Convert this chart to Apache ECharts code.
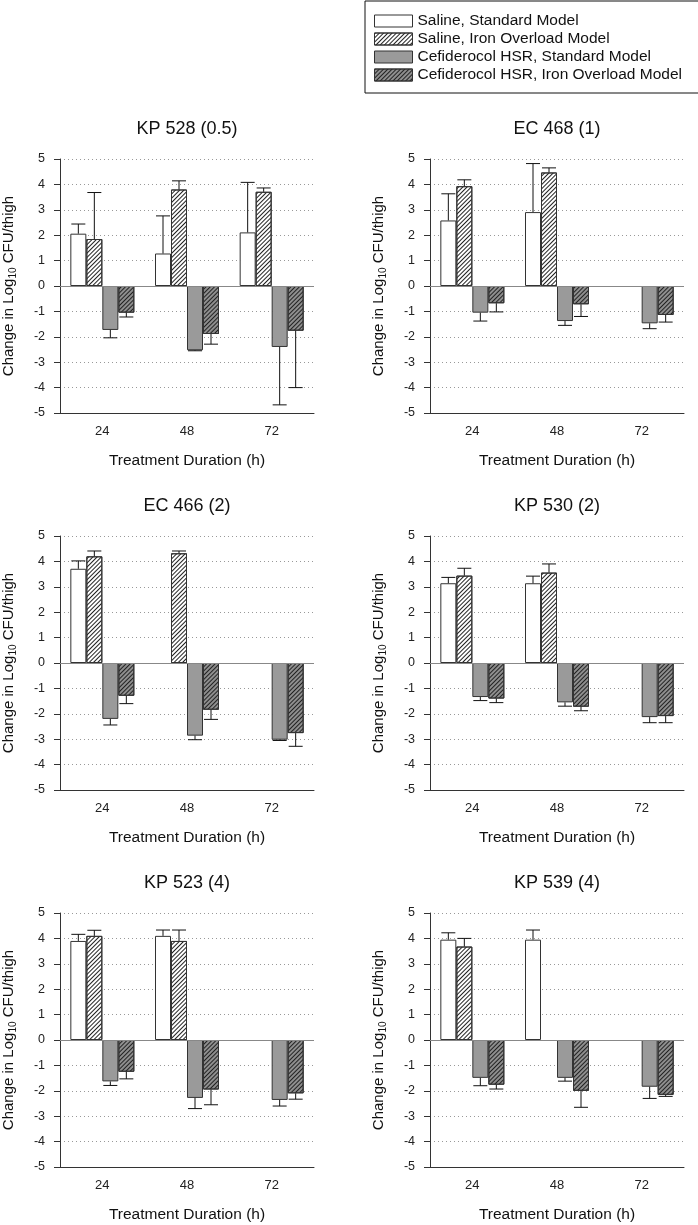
<!DOCTYPE html>
<html lang="en">
<head>
    <meta charset="UTF-8">
    <title>Cefiderocol</title>
    <style>
        body{ margin:0; background:#fff; }
        #main{ width:698px; height:1225px; }
    </style>
    <script src="https://cdn.jsdelivr.net/npm/echarts@6/dist/echarts.min.js"></script>
</head>
<body>
    <div id="main"></div>
</body>
<script>
    // categories / titles
    var categories = ['24', '48', '72'];
    var panelTitles = ['KP 528 (0.5)', 'EC 468 (1)', 'EC 466 (2)', 'KP 530 (2)', 'KP 523 (4)', 'KP 539 (4)'];
    var seriesNames = ['Saline, Standard Model', 'Saline, Iron Overload Model',
        'Cefiderocol HSR, Standard Model', 'Cefiderocol HSR, Iron Overload Model'];

    // mean change, one row per panel (24, 48, 72 h)
    var salineStd = [
        [2.06, 1.28, 2.11], [2.58, 2.91, null], [3.71, null, null],
        [3.14, 3.14, null], [3.90, 4.10, null], [3.95, 3.95, null]
    ];
    var salineIron = [
        [1.85, 3.80, 3.71], [3.93, 4.47, null], [4.20, 4.32, null],
        [3.44, 3.56, null], [4.10, 3.90, null], [3.68, null, null]
    ];
    var cefStd = [
        [-1.73, -2.53, -2.40], [-1.05, -1.38, -1.47], [-2.20, -2.86, -3.02],
        [-1.34, -1.55, -2.13], [-1.63, -2.28, -2.36], [-1.49, -1.49, -1.84]
    ];
    var cefIron = [
        [-1.05, -1.89, -1.76], [-0.68, -0.72, -1.14], [-1.29, -1.84, -2.76],
        [-1.40, -1.72, -2.09], [-1.25, -1.95, -2.10], [-1.76, -2.00, -2.16]
    ];
    // standard deviations
    var salineStdSd = [
        [0.38, 1.48, 1.97], [1.05, 1.91, null], [0.31, null, null],
        [0.23, 0.28, null], [0.26, 0.23, null], [0.27, 0.38, null]
    ];
    var salineIronSd = [
        [1.83, 0.34, 0.15], [0.25, 0.18, null], [0.21, 0.09, null],
        [0.29, 0.34, null], [0.22, 0.43, null], [0.32, null, null]
    ];
    var cefStdSd = [
        [0.31, 0.02, 2.28], [0.33, 0.17, 0.21], [0.24, 0.16, 0.03],
        [0.14, 0.15, 0.22], [0.16, 0.42, 0.24], [0.31, 0.13, 0.46]
    ];
    var cefIronSd = [
        [0.17, 0.40, 2.24], [0.34, 0.48, 0.28], [0.31, 0.38, 0.52],
        [0.16, 0.16, 0.26], [0.28, 0.60, 0.23], [0.17, 0.65, 0.06]
    ];

    var means = [salineStd, salineIron, cefStd, cefIron];
    var sds = [salineStdSd, salineIronSd, cefStdSd, cefIronSd];

    var FONT = '"Liberation Sans", Arial, sans-serif';
    var BAR_W = 16;

    // hatch "////" via decal
    function hatch() {
        return {
            symbol: 'rect',
            symbolSize: 1,
            color: '#222',
            dashArrayX: [1, 0],
            dashArrayY: [1, 2],
            rotation: -Math.PI / 4
        };
    }

    var fills = ['#ffffff', '#ffffff', '#9a9a9a', '#8e8e8e'];
    var hatched = [false, true, false, true];

    var mCharts = echarts.init(document.getElementById('main'));

    var gridLefts = [60, 430];
    var gridTops = [159, 536, 913];
    var gridW = 254, gridH = 254;

    var grids = [], xAxes = [], yAxes = [], titles = [], series = [];

    function errItem(params, api) {
        var idx = api.value(0), m = api.value(1), sd = api.value(2), slot = api.value(3);
        var sign = m >= 0 ? 1 : -1;
        var a = api.coord([idx, m]);
        var b = api.coord([idx, m + sign * sd]);
        var x = a[0] + (slot - 1.5) * BAR_W;
        return {
            type: 'group',
            children: [
                { type: 'line', shape: { x1: x, y1: a[1], x2: x, y2: b[1] }, style: { stroke: '#111', lineWidth: 1 } },
                { type: 'line', shape: { x1: x - 7, y1: b[1], x2: x + 7, y2: b[1] }, style: { stroke: '#111', lineWidth: 1 } }
            ]
        };
    }

    for (var p = 0; p < 6; p++) {
        var col = p % 2, row = Math.floor(p / 2);
        var gx = gridLefts[col], gy = gridTops[row];
        grids.push({ left: gx, top: gy, width: gridW, height: gridH });
        titles.push({
            text: panelTitles[p],
            left: gx + gridW / 2,
            top: gy - 39,
            textAlign: 'center',
            padding: 0,
            textStyle: { fontFamily: FONT, fontSize: 18, fontWeight: 'normal', color: '#111' }
        });
        xAxes.push({
            gridIndex: p,
            type: 'category',
            data: categories,
            boundaryGap: true,
            name: 'Treatment Duration (h)',
            nameLocation: 'middle',
            nameGap: 40,
            nameTextStyle: { fontFamily: FONT, fontSize: 15.5, color: '#111' },
            axisLine: { onZero: false, lineStyle: { color: '#333', width: 1 } },
            axisTick: { alignWithLabel: true, length: 6, lineStyle: { color: '#333' } },
            axisLabel: { margin: 12, fontFamily: FONT, fontSize: 13, color: '#222' },
            splitLine: { show: false }
        });
        yAxes.push({
            gridIndex: p,
            type: 'value',
            min: -5, max: 5, interval: 1,
            name: 'Change in Log{sub|10} CFU/thigh',
            nameLocation: 'middle',
            nameGap: 42,
            nameTextStyle: {
                fontFamily: FONT, fontSize: 15, color: '#111',
                rich: { sub: { fontFamily: FONT, fontSize: 10, color: '#111', padding: [8, 0, 0, 0] } }
            },
            axisLine: { show: true, lineStyle: { color: '#333', width: 1 } },
            axisTick: { show: true, length: 6, lineStyle: { color: '#333' } },
            axisLabel: { margin: 15, fontFamily: FONT, fontSize: 12.5, color: '#222' },
            splitLine: { show: true, lineStyle: { color: '#999', type: [1, 3], width: 1 } }
        });

        for (var s = 0; s < 4; s++) {
            var st = { color: fills[s], borderColor: '#333', borderWidth: 1 };
            if (hatched[s]) st.decal = hatch();
            var bar = {
                name: seriesNames[s],
                type: 'bar',
                xAxisIndex: p,
                yAxisIndex: p,
                barWidth: BAR_W,
                barGap: '0%',
                data: means[s][p].slice(),
                itemStyle: st,
                z: 2
            };
            if (s === 0) {
                bar.markLine = {
                    silent: true, symbol: 'none', label: { show: false },
                    lineStyle: { color: '#888', type: 'solid', width: 1.2 },
                    data: [{ yAxis: 0 }]
                };
            }
            series.push(bar);
        }

        // error bars
        var errData = [];
        for (var s2 = 0; s2 < 4; s2++) {
            for (var i = 0; i < categories.length; i++) {
                var m = means[s2][p][i];
                if (m === null) continue;
                errData.push([i, m, sds[s2][p][i], s2]);
            }
        }
        series.push({
            type: 'custom',
            xAxisIndex: p,
            yAxisIndex: p,
            z: 5,
            silent: true,
            data: errData,
            renderItem: errItem
        });
    }

    var option = {
        backgroundColor: '#fff',
        animation: false,
        title: titles,
        legend: {
            data: seriesNames,
            orient: 'vertical',
            left: 365,
            top: 1,
            padding: [12, 30, 10, 9],
            itemWidth: 38,
            itemHeight: 12,
            itemGap: 2,
            icon: 'rect',
            borderColor: '#111',
            borderWidth: 1,
            selectedMode: false,
            itemStyle: { borderWidth: 1, borderColor: '#333' },
            textStyle: { fontFamily: FONT, fontSize: 15.5, color: '#111' }
        },
        grid: grids,
        xAxis: xAxes,
        yAxis: yAxes,
        series: series
    };
    mCharts.setOption(option);
</script>
</html>
